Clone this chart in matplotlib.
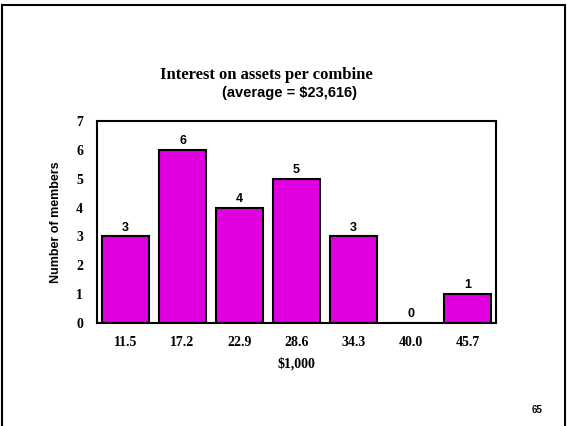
import matplotlib
matplotlib.use("Agg")
from matplotlib import pyplot as plt
from matplotlib.patches import Rectangle

bins = ["11.5", "17.2", "22.9", "28.6", "34.3", "40.0", "45.7"]
members = [3, 6, 4, 5, 3, 0, 1]

serif = "Liberation Serif"
sans = "Liberation Sans"

fig = plt.figure(figsize=(5.67, 4.26), dpi=100)
W, H = 567, 426

# slide border
fig.patches.append(Rectangle((2 / W, -0.1), 563 / W, 1 - 5 / H + 0.1,
                             transform=fig.transFigure, fill=False,
                             edgecolor="black", linewidth=1.5))

ax = fig.add_axes([97 / W, 1 - 323 / H, (496 - 97) / W, (323 - 121) / H])
x = range(len(bins))
bars = ax.bar(x, members, width=0.82, color="#E000E0",
              edgecolor="black", linewidth=1.5)
for xi, v in zip(x, members):
    ax.text(xi, v + 0.1, str(v), ha="center", va="bottom",
            fontfamily=sans, fontweight="bold", fontsize=9)

ax.set_xlim(-0.5, len(bins) - 0.5)
ax.set_ylim(0, 7)
ax.set_xticks(list(x))
ax.set_xticklabels(bins, fontfamily=serif, fontweight="bold", fontsize=10)
ax.set_yticks(range(8))
ax.set_yticklabels([str(i) for i in range(8)], fontfamily=serif,
                   fontweight="bold", fontsize=10)
ax.tick_params(axis="x", length=0, pad=9)
ax.tick_params(axis="y", length=0, pad=10)
for s in ax.spines.values():
    s.set_linewidth(1.5)

ax.set_ylabel("Number of members", fontfamily=sans, fontweight="bold",
              fontsize=9, labelpad=10)
ax.set_xlabel("$1,000", fontfamily=serif, fontweight="bold", fontsize=10,
              labelpad=6)

fig.text(266 / W, 1 - 75 / H, "Interest on assets per combine",
         ha="center", va="center", fontfamily=serif, fontweight="bold",
         fontsize=12)
fig.text(290 / W, 1 - 93 / H, "(average = $23,616)", ha="center",
         va="center", fontfamily=sans, fontweight="bold", fontsize=10.5)
fig.text(537 / W, 1 - 410 / H, "65", ha="center", va="center",
         fontfamily=sans, fontweight="bold", fontsize=7)

fig.savefig("out.png", dpi=100)
